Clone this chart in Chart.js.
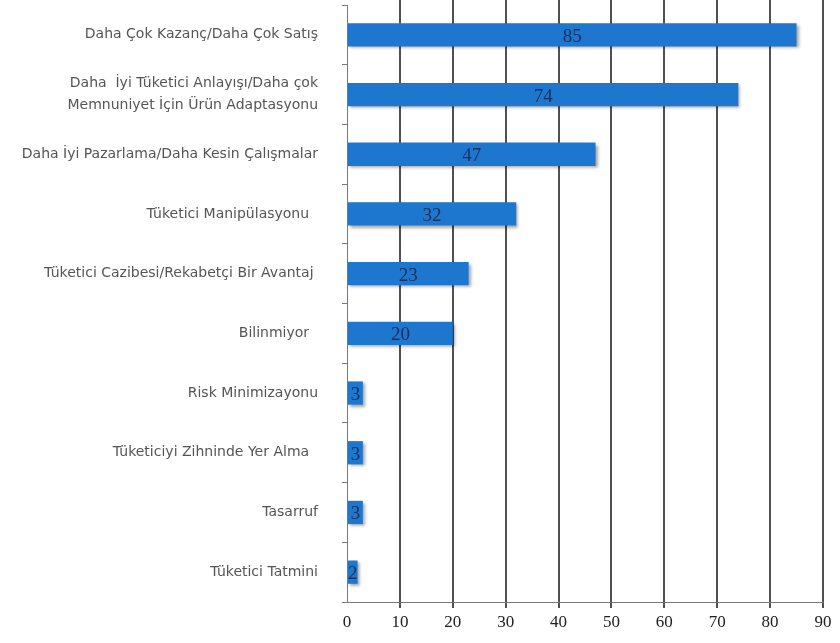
<!DOCTYPE html>
<html>
<head>
<meta charset="utf-8">
<script src="https://cdn.jsdelivr.net/npm/chart.js@4/dist/chart.umd.min.js"></script>
<style>
  html, body { margin: 0; padding: 0; background: #ffffff; }
  #wrap { width: 840px; height: 643px; position: relative; }
</style>
</head>
<body>
<div id="wrap"><canvas id="c" width="840" height="643"></canvas></div>
<script>
// Reasons given, with number of answers
const categories = [
  'Daha Çok Kazanç/Daha Çok Satış',
  ['Daha  İyi Tüketici Anlayışı/Daha çok', 'Memnuniyet İçin Ürün Adaptasyonu'],
  'Daha İyi Pazarlama/Daha Kesin Çalışmalar',
  'Tüketici Manipülasyonu  ',
  'Tüketici Cazibesi/Rekabetçi Bir Avantaj ',
  'Bilinmiyor  ',
  'Risk Minimizayonu',
  'Tüketiciyi Zihninde Yer Alma  ',
  'Tasarruf',
  'Tüketici Tatmini'
];
const counts = [85, 74, 47, 32, 23, 20, 3, 3, 3, 2];
const xTicks = [0, 10, 20, 30, 40, 50, 60, 70, 80, 90];

// Value written in the middle of each bar
const valueLabels = {
  id: 'valueLabels',
  afterDatasetsDraw(chart) {
    const ctx = chart.ctx;
    const meta = chart.getDatasetMeta(0);
    ctx.save();
    ctx.font = '19px "Liberation Serif"';
    ctx.fillStyle = '#1b2f5a';
    ctx.textAlign = 'center';
    ctx.textBaseline = 'middle';
    meta.data.forEach((bar, i) => {
      const cx = (bar.x + bar.base) / 2;
      ctx.fillText(String(counts[i]), cx, bar.y + 2);
    });
    ctx.restore();
  }
};

// Soft drop shadow beneath the bars
const barShadow = {
  id: 'barShadow',
  beforeDatasetsDraw(chart) {
    const ctx = chart.ctx;
    ctx.save();
    ctx.shadowColor = 'rgba(0,0,0,0.35)';
    ctx.shadowBlur = 3;
    ctx.shadowOffsetX = 2;
    ctx.shadowOffsetY = 2;
  },
  afterDatasetsDraw(chart) {
    chart.ctx.restore();
  }
};

// Vertical grid lines run on up to the top edge of the canvas
const gridToTop = {
  id: 'gridToTop',
  beforeDatasetsDraw(chart) {
    const { ctx, chartArea, scales } = chart;
    ctx.save();
    ctx.strokeStyle = '#505050';
    ctx.lineWidth = 2;
    ctx.lineCap = 'butt';
    xTicks.forEach((v, i) => {
      if (i === 0) return;
      const x = Math.round(scales.x.getPixelForValue(v));
      ctx.beginPath();
      ctx.moveTo(x, 0);
      ctx.lineTo(x, chartArea.top + 2);
      ctx.stroke();
    });
    ctx.restore();
  }
};

const ctx = document.getElementById('c').getContext('2d');

new Chart(ctx, {
  type: 'bar',
  data: {
    labels: categories,
    datasets: [{
      data: counts,
      backgroundColor: '#1e77cf',
      borderWidth: 0,
      barPercentage: 0.78,
      categoryPercentage: 0.5
    }]
  },
  options: {
    indexAxis: 'y',
    responsive: false,
    animation: false,
    events: [],
    layout: { padding: { top: 5, right: 17, bottom: 0, left: 0 } },
    plugins: { legend: { display: false }, tooltip: { enabled: false } },
    scales: {
      x: {
        min: 0,
        max: 90,
        afterBuildTicks(scale) { scale.ticks = xTicks.map(v => ({ value: v })); },
        afterFit(scale) { scale.height = 41; },
        grid: {
          color: (c) => c.index === 0 ? 'rgba(0,0,0,0)' : '#505050',
          lineWidth: 2,
          tickLength: 6,
          drawTicks: true
        },
        border: { display: true, color: '#7a7a7a', width: 1 },
        ticks: {
          color: '#222',
          font: { family: '"Liberation Serif"', size: 17 },
          padding: 4,
          maxRotation: 0
        }
      },
      y: {
        afterFit(scale) {
          scale.width = 347;
          scale.paddingTop = 0;
          scale.paddingBottom = 0;
        },
        grid: {
          drawOnChartArea: false,
          drawTicks: true,
          tickLength: 5,
          color: '#7a7a7a',
          lineWidth: 1
        },
        border: { display: true, color: '#7a7a7a', width: 1 },
        ticks: {
          color: '#555',
          font: { family: '"DejaVu Sans"', size: 14, lineHeight: 1.6 },
          padding: 24,
          autoSkip: false
        }
      }
    }
  },
  plugins: [gridToTop, barShadow, valueLabels]
});
</script>
</body>
</html>
